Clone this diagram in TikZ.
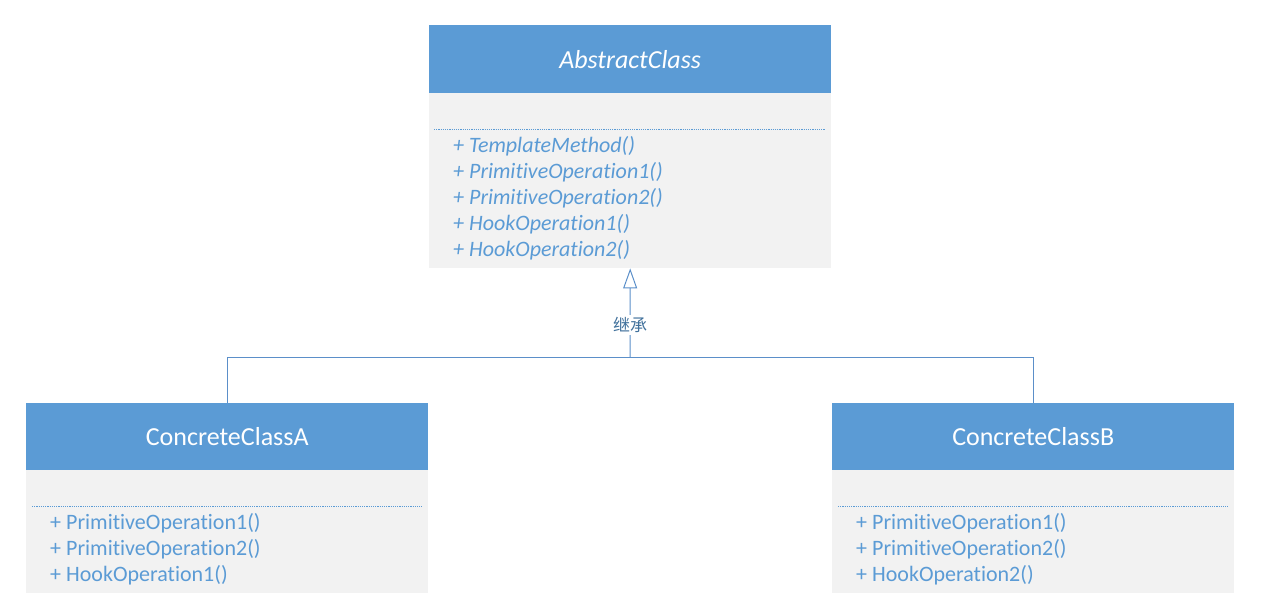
\documentclass[tikz,border=0pt]{standalone}
\usepackage{fontspec}
\setmainfont{Carlito}[Ligatures=CommonOff]
\newfontfamily\cjk{Noto Sans CJK SC}
\usetikzlibrary{arrows.meta}
\definecolor{hdr}{HTML}{5B9BD5}
\definecolor{bodyc}{HTML}{F2F2F2}
\definecolor{txt}{HTML}{5B9BD5}
\definecolor{lnc}{HTML}{5B8FC9}
\definecolor{lbl}{HTML}{41719C}
\tikzset{
  classbox/.style={draw=none, fill=bodyc, minimum width=402pt, inner sep=0pt, anchor=north west},
  header/.style={draw=none, fill=hdr, minimum width=402pt, minimum height=67pt, inner sep=0pt, anchor=north west, text=white, font=\fontsize{26}{30}\selectfont},
  member/.style={anchor=base west, inner sep=0pt, text=txt, font=\fontsize{22}{26}\selectfont},
  sep/.style={draw=txt, line width=0.6pt, dash pattern=on 1.2pt off 1pt},
  conn/.style={draw=lnc, line width=1pt},
}
\begin{document}
\begin{tikzpicture}[x=1pt,y=-1pt]
\useasboundingbox (0,0) rectangle (1282,608);
% AbstractClass
\node[classbox, minimum height=243pt] (abs) at (429,25) {};
\node[header, minimum height=68pt] (absh) at (429,25) {\itshape AbstractClass};
\draw[sep] (434,129) -- (825,129);
\node[member] (m1) at (453,152) {\itshape + TemplateMethod()};
\node[member] (m2) at (453,178) {\itshape + PrimitiveOperation1()};
\node[member] (m3) at (453,204) {\itshape + PrimitiveOperation2()};
\node[member] (m4) at (453,230) {\itshape + HookOperation1()};
\node[member] (m5) at (453,256) {\itshape + HookOperation2()};
% ConcreteClassA
\node[classbox, minimum height=190pt] (ca) at (26,403) {};
\node[header] (cah) at (26,403) {ConcreteClassA};
\draw[sep] (32,506) -- (422,506);
\node[member] (a1) at (50,529) {+ PrimitiveOperation1()};
\node[member] (a2) at (50,555) {+ PrimitiveOperation2()};
\node[member] (a3) at (50,581) {+ HookOperation1()};
% ConcreteClassB
\node[classbox, minimum height=190pt] (cb) at (832,403) {};
\node[header] (cbh) at (832,403) {ConcreteClassB};
\draw[sep] (838,506) -- (1228,506);
\node[member] (b1) at (856,529) {+ PrimitiveOperation1()};
\node[member] (b2) at (856,555) {+ PrimitiveOperation2()};
\node[member] (b3) at (856,581) {+ HookOperation2()};
% connectors
\coordinate (j) at (630,357);
\draw[conn] (ca.north) |- (j);
\draw[conn] (cb.north) |- (j);
\draw[conn, -{Triangle[open, length=20pt, width=14pt, line width=1pt]}] (j) -- (abs.south);
\node[fill=white, inner sep=2pt, text=lbl, font=\cjk\fontsize{17}{19}\selectfont] (lab) at (630,325) {继承};
\end{tikzpicture}
\end{document}
